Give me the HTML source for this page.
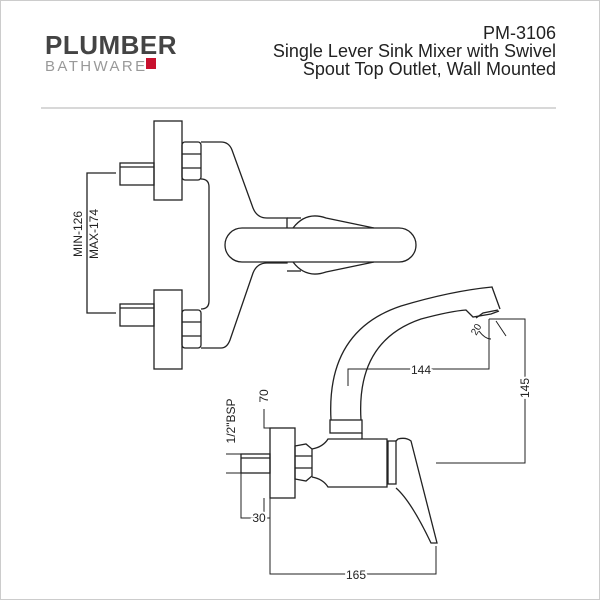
<!DOCTYPE html>
<html><head><style>
body{margin:0;background:#fff}
.wrap{position:relative;width:600px;height:600px;overflow:hidden;box-sizing:border-box;border:1px solid #ccc}
</style></head><body><div class="wrap">
<svg width="600" height="600" style="position:absolute;left:0;top:0" font-family="Liberation Sans, sans-serif">
<text x="44" y="53" font-size="26" font-weight="bold" fill="#444" letter-spacing="0.5">PLUMBER</text>
<text x="44" y="70" font-size="15" fill="#999" letter-spacing="2.4">BATHWARE</text>
<rect x="145" y="57" width="10" height="11" fill="#c8102e"/>
<g font-size="18" fill="#222" text-anchor="end">
<text x="555" y="38">PM-3106</text>
<text x="555" y="56">Single Lever Sink Mixer with Swivel</text>
<text x="555" y="74">Spout Top Outlet, Wall Mounted</text>
</g>
<line x1="40" y1="107" x2="555" y2="107" stroke="#ccc" stroke-width="1.5"/>
<g fill="none" stroke="#222" stroke-width="1.3">
<rect x="153" y="120" width="28" height="79"/>
<rect x="119" y="162" width="34" height="22"/>
<line x1="119" y1="166" x2="153" y2="166"/>
<rect x="153" y="289" width="28" height="79"/>
<rect x="119" y="303" width="34" height="22"/>
<line x1="119" y1="307" x2="153" y2="307"/>
<rect x="181" y="141" width="19" height="38" rx="3"/>
<line x1="181" y1="153" x2="200" y2="153"/><line x1="181" y1="167" x2="200" y2="167"/>
<rect x="181" y="309" width="19" height="38" rx="3"/>
<line x1="181" y1="321" x2="200" y2="321"/><line x1="181" y1="335" x2="200" y2="335"/>
<path d="M200 141 H220 Q228 141 231 149 L252 207 Q256 217 266 217 H286 V227"/>
<path d="M200 347 H220 Q226 347 229 339 L252 272 Q256 262 266 262 H286 V261"/>
<path d="M200 178 Q208 178 208 186 V300 Q208 308 200 308"/>
<rect x="224" y="227" width="191" height="34" rx="17"/>
<path d="M292 227 Q305 210 325 217 L373 227"/>
<path d="M292 261 Q305 278 325 271 L373 261"/>
<line x1="286" y1="217" x2="300" y2="217"/><line x1="286" y1="270" x2="300" y2="270"/>
<path d="M115 172 H86 V312 H115"/>
<rect x="269" y="427" width="25" height="70"/>
<rect x="240" y="453" width="29" height="19"/>
<line x1="240" y1="457" x2="269" y2="457"/>
<path d="M294 445 L305 443 L311 448 V475 L305 480 L294 478 Z"/>
<line x1="294" y1="455" x2="311" y2="455"/><line x1="294" y1="467" x2="311" y2="467"/>
<path d="M311 448 Q322 446 327 438 H386 V486 H327 Q322 478 311 476"/>
<rect x="329" y="419" width="32" height="13"/>
<line x1="361" y1="432" x2="361" y2="438"/>
<path d="M330 419 Q325 330 400 305 Q450 290 491 286 L499 308"/>
<path d="M360 419 Q355 340 420 318 Q450 310 465 309 L472 316 L490 313 L498 310"/>
<path d="M475 317 L482 312 L497 309"/>
<rect x="387" y="440" width="8" height="43"/>
<path d="M395 440 L397 438 Q405 436 410 440 Q420 480 436 542 L430 542 Q410 500 395 487"/>
</g>
<g fill="none" stroke="#222" stroke-width="1">
<path d="M347 385 V368 H488 V318"/>
<path d="M488 318 H524 V462 H435"/>
<path d="M269 497 V573 H435 V545"/>
<path d="M240 472 V517 H269"/>
<path d="M263 408 V427 H269"/>
<path d="M263 497 V513"/>
<path d="M225 453 H240 M225 472 H240"/>
<path d="M495 320 L505 335 M478 330 Q484 338 490 338"/>
</g>
<g font-size="12" fill="#222">
<text x="420" y="373" text-anchor="middle" style="paint-order:stroke" stroke="#fff" stroke-width="4">144</text>
<text x="355" y="578" text-anchor="middle" style="paint-order:stroke" stroke="#fff" stroke-width="4">165</text>
<text x="258" y="521" text-anchor="middle" style="paint-order:stroke" stroke="#fff" stroke-width="4">30</text>
<text transform="translate(528,387) rotate(-90)" text-anchor="middle" style="paint-order:stroke" stroke="#fff" stroke-width="4">145</text>
<text transform="translate(267,395) rotate(-90)" text-anchor="middle">70</text>
<text transform="translate(234,420) rotate(-90)" text-anchor="middle">1/2"BSP</text>
<text transform="translate(478,330) rotate(-60)" text-anchor="middle" font-size="10">20</text>
<text transform="translate(81,233) rotate(-90)" text-anchor="middle" style="paint-order:stroke" stroke="#fff" stroke-width="4">MIN-126</text>
<text transform="translate(97,233) rotate(-90)" text-anchor="middle">MAX-174</text>
</g>
</svg></div></body></html>
